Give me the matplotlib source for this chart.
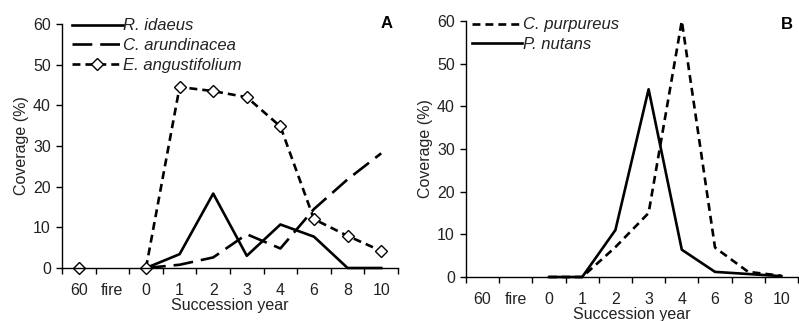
import numpy as np
import matplotlib
matplotlib.use("Agg")
import matplotlib.pyplot as plt

# Tick labels (categories on the x axis)
yillar = ["60", "fire", "0", "1", "2", "3", "4", "6", "8", "10"]
nan = np.nan

# Panel A
r_idaeus = [nan, nan, 0, 3.4, 18.3, 3.0, 10.7, 7.7, 0, 0]
c_arundinacea = [nan, nan, 0, 0.8, 2.6, 8.3, 4.8, 14.5, 21.8, 28.2]
e_angustifolium = [0, nan, 0, 44.5, 43.5, 42.0, 34.8, 12.0, 7.9, 4.2]

# Panel B
c_purpureus = [nan, nan, 0, 0, 7.0, 15.0, 60.0, 6.9, 1.2, 0.3]
p_nutans = [nan, nan, 0, 0, 11.0, 44.0, 6.4, 1.2, 0.7, 0.2]

plt.rcParams["font.family"] = ["Liberation Sans", "DejaVu Sans"]
plt.rcParams["font.size"] = 11.5
yazi_rengi = "#222222"

fig = plt.figure(figsize=(7.99, 3.21), dpi=100)
ax_a = fig.add_axes([62 / 799, 1 - 268 / 321, 336 / 799, 244 / 321])
ax_b = fig.add_axes([466 / 799, 1 - 277 / 321, 332 / 799, 256 / 321])


def eksen_duzenle(ax):
    x = np.arange(len(yillar))
    ax.set_xlim(-0.5, len(yillar) - 0.5)
    ax.set_ylim(0, 60)
    ax.spines["top"].set_visible(False)
    ax.spines["right"].set_visible(False)
    for s in ("left", "bottom"):
        ax.spines[s].set_linewidth(1.0)
    ax.set_xticks(np.arange(-0.5, len(yillar)), labels=[])
    ax.set_xticks(x, labels=yillar, minor=True)
    ax.tick_params(axis="x", which="major", direction="out", length=4, width=1.0)
    ax.tick_params(axis="x", which="minor", length=0, pad=11, labelcolor=yazi_rengi)
    ax.set_yticks(range(0, 61, 10))
    ax.tick_params(axis="y", direction="out", length=4, width=1.0, pad=4,
                   labelcolor=yazi_rengi)
    ax.set_xlabel("Succession year", labelpad=0, color=yazi_rengi)
    ax.set_ylabel("Coverage (%)", color=yazi_rengi)
    return x


def lejant(ax, x0, y0):
    leg = ax.legend(loc="upper left", bbox_to_anchor=(x0, y0), frameon=False,
                    handlelength=3.05, handletextpad=0.05, labelspacing=0.28,
                    borderpad=0, borderaxespad=0,
                    prop={"style": "italic", "size": 12})
    for t in leg.get_texts():
        t.set_color(yazi_rengi)


x = eksen_duzenle(ax_a)
ax_a.yaxis.set_label_coords(-0.098, 0.5)
ax_a.plot(x, r_idaeus, color="black", lw=1.9, label="R. idaeus", clip_on=False)
ax_a.plot(x, c_arundinacea, color="black", lw=1.9, dashes=(7.5, 3),
          label="C. arundinacea", clip_on=False)
ax_a.plot(x, e_angustifolium, color="black", lw=1.9, dashes=(3, 1.9),
          marker="D", ms=6, mfc="white", mec="black", mew=1.0,
          label="E. angustifolium", clip_on=False)
lejant(ax_a, 0.029, 1.023)
ax_a.text(0.967, 1.0, "A", transform=ax_a.transAxes, fontweight="bold",
          fontsize=12, ha="center", va="center")

x = eksen_duzenle(ax_b)
ax_b.yaxis.set_label_coords(-0.099, 0.5)
ax_b.plot(x, c_purpureus, color="black", lw=1.9, dashes=(3, 1.9),
          label="C. purpureus", clip_on=False)
ax_b.plot(x, p_nutans, color="black", lw=1.9, label="P. nutans", clip_on=False)
lejant(ax_b, 0.017, 1.014)
ax_b.text(0.966, 0.988, "B", transform=ax_b.transAxes, fontweight="bold",
          fontsize=12, ha="center", va="center")

fig.savefig("out.png", dpi=100)
